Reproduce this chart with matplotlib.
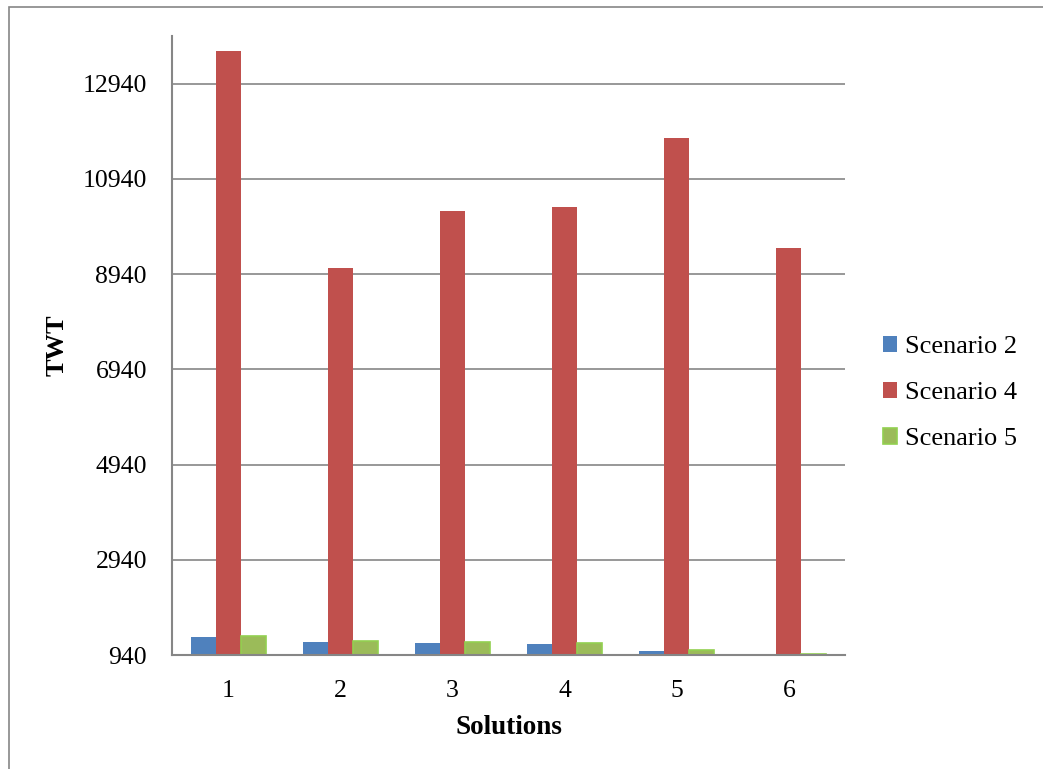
import numpy as np
import matplotlib.pyplot as plt
from matplotlib.patches import Rectangle

# --- data ---
solutions = ["1", "2", "3", "4", "5", "6"]
scenario_2 = [1325, 1205, 1184, 1177, 1016, 940]
scenario_4 = [13615, 9075, 10273, 10357, 11808, 9495]
scenario_5 = [1346, 1226, 1213, 1199, 1045, 962]
y_ticks = [940, 2940, 4940, 6940, 8940, 10940, 12940]

plt.rcParams['font.family'] = ['Liberation Serif', 'DejaVu Serif']

fig = plt.figure(figsize=(10.43, 7.69), dpi=100)
ax = fig.add_axes([172/1043, 1 - 655/769, (845-172)/1043, (655-36)/769])

x = np.arange(len(solutions))
w = 0.223
grey = '#868686'

ax.bar(x - w, scenario_2, w, color='#4F81BD', label='Scenario 2', zorder=3)
ax.bar(x, scenario_4, w, color='#C0504D', label='Scenario 4', zorder=3)
ax.bar(x + w, scenario_5, w, color='#9BBB59', edgecolor='#92D050', linewidth=1.2,
       label='Scenario 5', zorder=3)

ax.set_xlim(-0.5, len(solutions) - 0.5)
ax.set_ylim(940, 13940)
ax.set_yticks(y_ticks)
ax.set_xticks(x)
ax.set_xticklabels(solutions)
ax.tick_params(axis='both', labelsize=18.5, length=0, pad=18, colors='black')
ax.yaxis.grid(True, color=grey, linewidth=1.2, zorder=0)

for s in ['top', 'right']:
    ax.spines[s].set_visible(False)
for s in ['left', 'bottom']:
    ax.spines[s].set_color(grey)
    ax.spines[s].set_linewidth(1.5)
    ax.spines[s].set_zorder(4)

ax.set_ylabel('TWT', fontsize=19, fontweight='bold', labelpad=10)
ax.set_xlabel('Solutions', fontsize=19.5, fontweight='bold', labelpad=9)

fig.legend(loc='center left', bbox_to_anchor=(872/1043, 1 - 393/769), frameon=False,
           fontsize=19, handlelength=0.55, handleheight=0.55, handletextpad=0.3,
           labelspacing=0.9, borderaxespad=0)

# outer chart border
fig.patches.append(Rectangle((9/1043, -0.05), 1.1, 1 - 7/769 + 0.05, transform=fig.transFigure,
                             fill=False, edgecolor=grey, linewidth=1.2))

fig.savefig('out.png', dpi=100)
